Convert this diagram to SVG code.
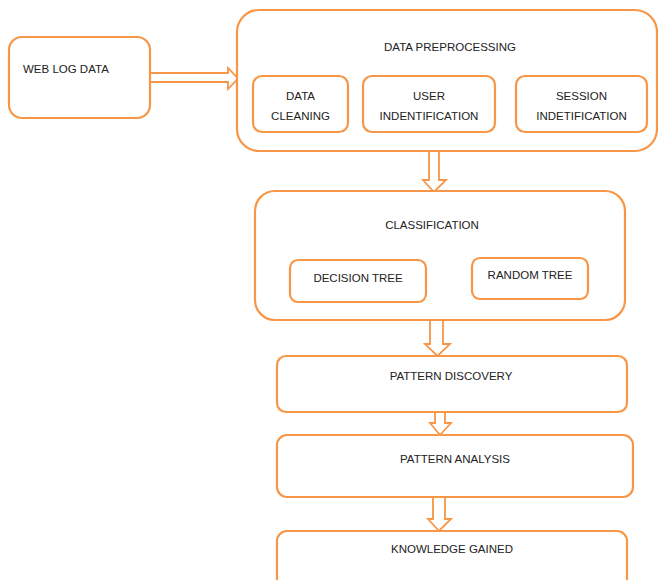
<svg xmlns="http://www.w3.org/2000/svg" width="658" height="580" viewBox="0 0 658 580">
<style>
.box{fill:#fff;stroke:#F79646;stroke-width:2.2}
.arr{fill:#fff;stroke:#F79646;stroke-width:1.8;stroke-linejoin:miter}
text{font-family:"Liberation Sans",Arial,sans-serif;font-size:11.5px;fill:#222;text-anchor:middle}
</style>
<rect width="658" height="580" fill="#fff"/>
<g id="connectors">
<polygon class="arr" points="150,73 228,73 228,68 238,78.5 228,89 228,82 150,82"/>
<polygon class="arr" points="348,98 357,98 357,95 363,101.5 357,108 357,105 348,105"/>
<polygon class="arr" points="495,98 509,98 509,95 516,101.5 509,108 509,105 495,105"/>
<polygon class="arr" points="429,151 439,151 439,180 446,180 434,192 423,180 429,180"/>
<polygon class="arr" points="430,320 443,320 443,344 450,344 437.5,356 425,344 430,344"/>
<polygon class="arr" points="435,412 445,412 445,423 451,423 440,435 430,423 435,423"/>
<polygon class="arr" points="433,497 445,497 445,519 451,519 439,531 428,519 433,519"/>
</g>
<g id="weblog">
<rect class="box" x="9" y="37" width="141" height="81" rx="13"/>
<text x="23" y="73" style="text-anchor:start">WEB LOG DATA</text>
</g>
<g id="preprocessing">
<rect class="box" x="237" y="10" width="420" height="141" rx="22"/>
<text x="450" y="51">DATA PREPROCESSING</text>
</g>
<g id="cleaning">
<rect class="box" x="253" y="76" width="95" height="56" rx="9"/>
<text x="300.5" y="100">DATA</text>
<text x="300.5" y="120">CLEANING</text>
</g>
<g id="user">
<rect class="box" x="363" y="76" width="132" height="56" rx="9"/>
<text x="429" y="100">USER</text>
<text x="429" y="120">INDENTIFICATION</text>
</g>
<g id="session">
<rect class="box" x="516" y="76" width="131" height="56" rx="9"/>
<text x="581.5" y="100">SESSION</text>
<text x="581.5" y="120">INDETIFICATION</text>
</g>
<g id="classification">
<rect class="box" x="255" y="191" width="370" height="129" rx="20"/>
<text x="432" y="229">CLASSIFICATION</text>
</g>
<g id="decision">
<rect class="box" x="290" y="260" width="136" height="42" rx="8"/>
<text x="358" y="282">DECISION TREE</text>
</g>
<g id="random">
<rect class="box" x="472" y="258" width="116" height="41" rx="8"/>
<text x="530" y="279">RANDOM TREE</text>
</g>
<g id="discovery">
<rect class="box" x="277" y="356" width="350" height="56" rx="9"/>
<text x="451" y="380">PATTERN DISCOVERY</text>
</g>
<g id="analysis">
<rect class="box" x="277" y="435" width="356" height="62" rx="10"/>
<text x="455" y="463">PATTERN ANALYSIS</text>
</g>
<g id="knowledge">
<rect class="box" x="277" y="531" width="350" height="70" rx="10"/>
<text x="452" y="553">KNOWLEDGE GAINED</text>
</g>
</svg>
